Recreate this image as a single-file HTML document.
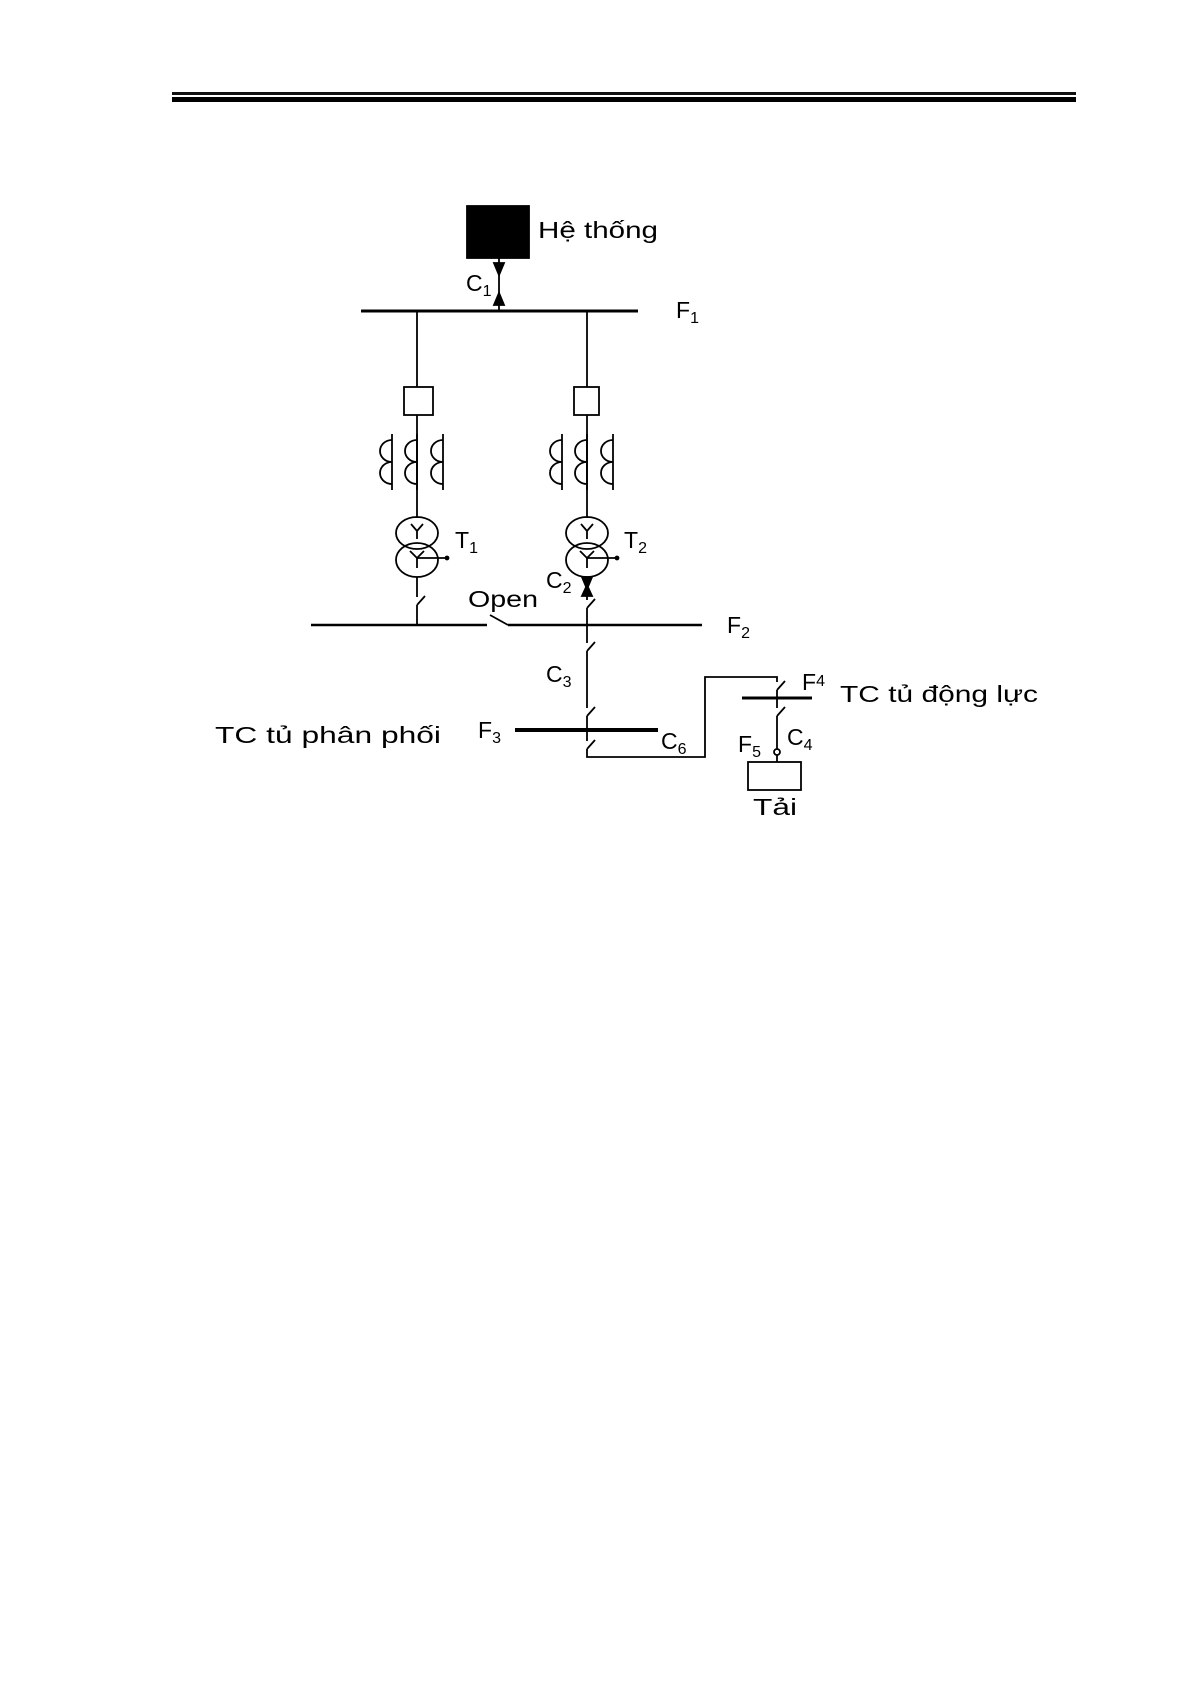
<!DOCTYPE html>
<html><head><meta charset="utf-8"><style>
html,body{margin:0;padding:0;background:#fff;}
svg{display:block;}
text{font-family:"Liberation Sans",sans-serif;fill:#000;}
</style></head><body>
<svg width="1191" height="1685" viewBox="0 0 1191 1685" xmlns="http://www.w3.org/2000/svg">
<rect x="172" y="92" width="904" height="3" fill="#111"/>
<rect x="172" y="97" width="904" height="5" fill="#000"/>

<g stroke="#000" fill="none" stroke-width="1.8">
<rect x="467" y="206" width="62" height="52" fill="#000"/>
<line x1="499" y1="258" x2="499" y2="311"/>
<polygon points="494,263 504,263 499,275" fill="#000"/>
<polygon points="494,305 504,305 499,293" fill="#000"/>
<line x1="361" y1="311" x2="638" y2="311" stroke-width="3"/>

<line x1="417" y1="311" x2="417" y2="387"/>
<line x1="587" y1="311" x2="587" y2="387"/>
<rect x="404" y="387" width="29" height="28"/>
<rect x="574" y="387" width="25" height="28"/>
<line x1="417" y1="415" x2="417" y2="518"/>
<line x1="587" y1="415" x2="587" y2="518"/>

<g id="ct">
<line x1="392" y1="434" x2="392" y2="490"/>
<path d="M392,440 A12,11 0 0 0 392,462 A12,11 0 0 0 392,484"/>
<line x1="417" y1="434" x2="417" y2="490"/>
<path d="M417,440 A12,11 0 0 0 417,462 A12,11 0 0 0 417,484"/>
<line x1="443" y1="434" x2="443" y2="490"/>
<path d="M443,440 A12,11 0 0 0 443,462 A12,11 0 0 0 443,484"/>
</g>
<use href="#ct" transform="translate(170,0)"/>

<g id="tr">
<ellipse cx="417" cy="533" rx="21" ry="16"/>
<ellipse cx="417" cy="560" rx="21" ry="17"/>
<path d="M411,524 L417,531 L423,524 M417,531 L417,539"/>
<path d="M410,551 L417,558 L424,551 M417,558 L417,568"/>
<line x1="417" y1="558" x2="446" y2="558"/>
<circle cx="447" cy="558" r="1.5" fill="#000"/>
</g>
<use href="#tr" transform="translate(170,0)"/>

<line x1="417" y1="577" x2="417" y2="597"/>
<line x1="417" y1="605" x2="425" y2="596"/>
<line x1="417" y1="605" x2="417" y2="625"/>
<line x1="311" y1="625" x2="487" y2="625" stroke-width="2.5"/>
<line x1="490" y1="615" x2="508" y2="625"/>
<line x1="508" y1="625" x2="702" y2="625" stroke-width="2.5"/>

<line x1="587" y1="577" x2="587" y2="600"/>
<polygon points="582,577 592,577 587,589" fill="#000"/>
<polygon points="582,596 592,596 587,585" fill="#000"/>
<line x1="587" y1="608" x2="595" y2="599"/>
<line x1="587" y1="608" x2="587" y2="643"/>
<line x1="587" y1="651" x2="595" y2="642"/>
<line x1="587" y1="651" x2="587" y2="708"/>
<line x1="587" y1="716" x2="595" y2="707"/>
<line x1="587" y1="716" x2="587" y2="741"/>
<line x1="515" y1="730" x2="658" y2="730" stroke-width="4"/>
<line x1="587" y1="749" x2="595" y2="740"/>
<polyline points="587,749 587,757 705,757 705,677 777,677 777,682"/>
<line x1="777" y1="690" x2="785" y2="681"/>
<line x1="777" y1="690" x2="777" y2="708"/>
<line x1="742" y1="698" x2="812" y2="698" stroke-width="3"/>
<line x1="777" y1="716" x2="785" y2="707"/>
<line x1="777" y1="716" x2="777" y2="749"/>
<circle cx="777" cy="752" r="3"/>
<line x1="777" y1="755" x2="777" y2="762"/>
<rect x="748" y="762" width="53" height="28"/>
</g>

<g font-size="23">
<text x="538" y="238" textLength="120" lengthAdjust="spacingAndGlyphs">Hệ thống</text>
<text x="466" y="291">C<tspan font-size="16" dy="5">1</tspan></text>
<text x="676" y="318">F<tspan font-size="16" dy="5">1</tspan></text>
<text x="455" y="548">T<tspan font-size="16" dy="5">1</tspan></text>
<text x="624" y="548">T<tspan font-size="16" dy="5">2</tspan></text>
<text x="546" y="588">C<tspan font-size="16" dy="5">2</tspan></text>
<text x="468" y="607" textLength="70" lengthAdjust="spacingAndGlyphs">Open</text>
<text x="727" y="633">F<tspan font-size="16" dy="5">2</tspan></text>
<text x="546" y="682">C<tspan font-size="16" dy="5">3</tspan></text>
<text x="478" y="738">F<tspan font-size="16" dy="5">3</tspan></text>
<text x="215" y="743" textLength="226" lengthAdjust="spacingAndGlyphs">TC tủ phân phối</text>
<text x="661" y="749">C<tspan font-size="16" dy="5">6</tspan></text>
<text x="802" y="690">F<tspan font-size="16" dy="-4">4</tspan></text>
<text x="840" y="702" textLength="198" lengthAdjust="spacingAndGlyphs">TC tủ động lực</text>
<text x="787" y="745">C<tspan font-size="16" dy="5">4</tspan></text>
<text x="738" y="752">F<tspan font-size="16" dy="5">5</tspan></text>
<text x="753" y="815" textLength="44" lengthAdjust="spacingAndGlyphs">Tải</text>
</g>
</svg>
</body></html>
